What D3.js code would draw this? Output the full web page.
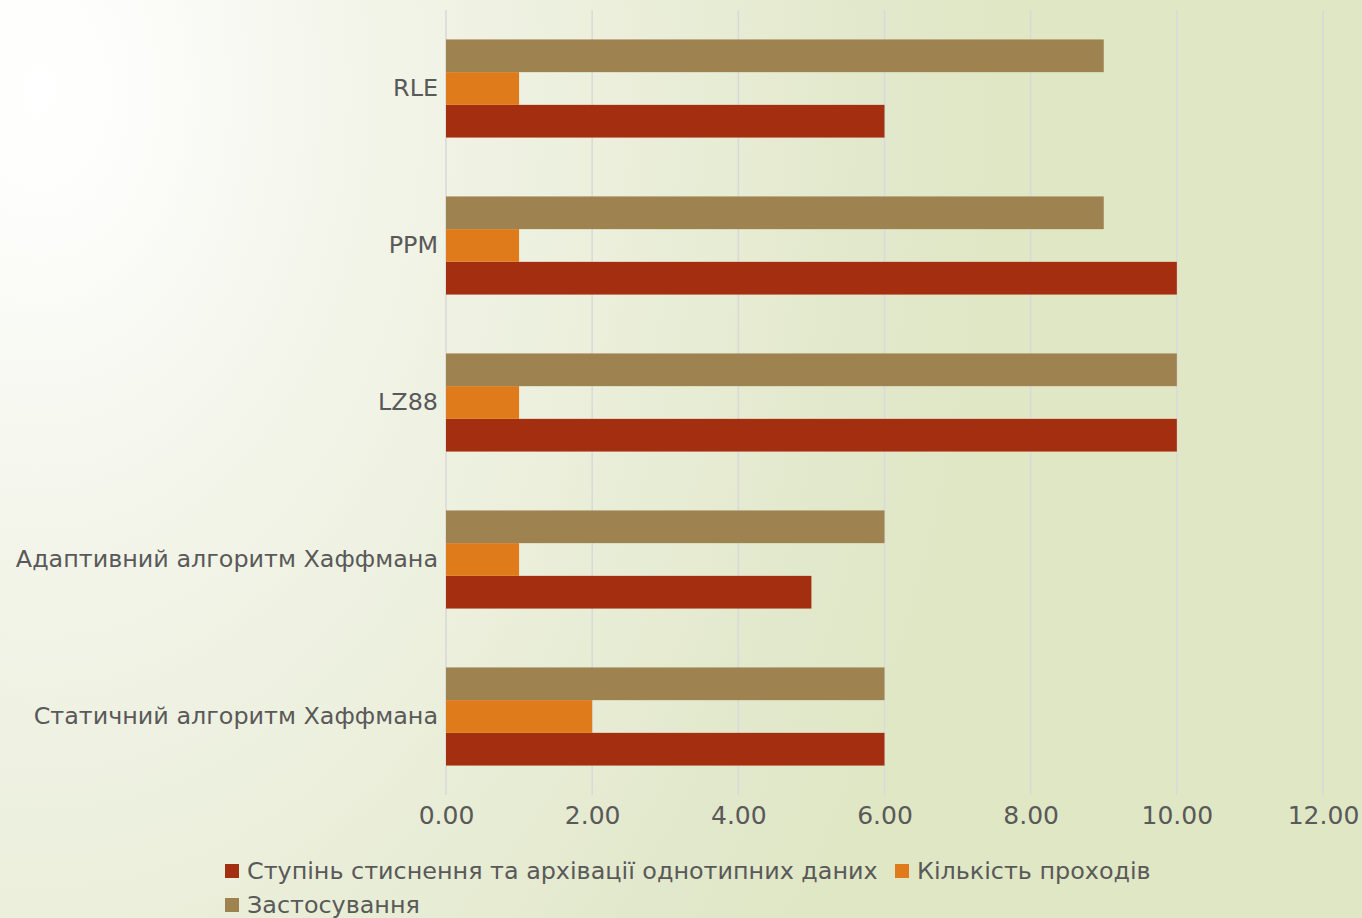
<!DOCTYPE html>
<html><head><meta charset="utf-8">
<script src="https://cdn.jsdelivr.net/npm/d3@7"></script>
<style>html,body{margin:0;padding:0;overflow:hidden;}svg{display:block;}</style>
</head><body>
<script>
const categories = ["Статичний алгоритм Хаффмана","Адаптивний алгоритм Хаффмана","LZ88","PPM","RLE"];
const seriesNames = ["Ступінь стиснення та архівації однотипних даних","Кількість проходів","Застосування"];
const compression = [6,5,10,10,6];
const passes = [2,1,1,1,1];
const usage = [6,6,10,9,9];
const xTicks = [0,2,4,6,8,10,12];
const colors = ["#A32E10","#DF7B1A","#9E8250"];

const W=1362,H=918;
const svg=d3.select("body").append("svg").attr("width",W).attr("height",H);
const defs=svg.append("defs");
const rg=defs.append("radialGradient").attr("id","bg").attr("gradientUnits","userSpaceOnUse")
  .attr("cx",0).attr("cy",0).attr("r",1)
  .attr("gradientTransform","translate(40,90) scale(1050,1500)");
rg.append("stop").attr("offset","0").attr("stop-color","#ffffff");
rg.append("stop").attr("offset","0.08").attr("stop-color","#fdfdfb");
rg.append("stop").attr("offset","0.3").attr("stop-color","#f3f5ea");
rg.append("stop").attr("offset","0.55").attr("stop-color","#ebefdb");
rg.append("stop").attr("offset","0.8").attr("stop-color","#e2e8cb");
rg.append("stop").attr("offset","0.92").attr("stop-color","#e0e7c5");
rg.append("stop").attr("offset","1").attr("stop-color","#e0e7c5");
svg.append("rect").attr("width",W).attr("height",H).attr("fill","url(#bg)");

const x=d3.scaleLinear().domain([0,12]).range([446,1323]);
const y=d3.scaleBand().domain(categories.slice().reverse()).range([10,795]).paddingInner(0.375).paddingOuter(0.1875);
const sub=d3.scaleBand().domain([2,1,0]).range([0,y.bandwidth()]);
const values=[compression,passes,usage];

// gridlines
svg.append("g").selectAll("line").data(xTicks).join("line")
  .attr("x1",d=>x(d)).attr("x2",d=>x(d)).attr("y1",10).attr("y2",795)
  .attr("stroke","#d9d9d9").attr("stroke-width",1.5);

// bars
const g=svg.append("g");
categories.forEach((c,i)=>{
  [0,1,2].forEach(s=>{
    g.append("rect").attr("x",x(0)).attr("y",y(c)+sub(s))
     .attr("width",x(values[s][i])-x(0)).attr("height",sub.bandwidth())
     .attr("fill",colors[s]);
  });
});

// axis
const xa=svg.append("g").attr("transform","translate(0,795)")
  .call(d3.axisBottom(x).tickValues(xTicks).tickFormat(d3.format(".2f")).tickSize(0).tickPadding(11));
xa.select(".domain").remove();
xa.selectAll("text").attr("font-family","DejaVu Sans").attr("font-size",25).attr("fill","#595959");

const ya=svg.append("g").attr("transform","translate(446,0)")
  .call(d3.axisLeft(y).tickSize(0).tickPadding(8));
ya.select(".domain").remove();
ya.selectAll("text").attr("font-family","DejaVu Sans").attr("font-size",23.85).attr("fill","#595959");

// legend
const leg=svg.append("g").attr("font-family","DejaVu Sans").attr("font-size",23.85).attr("fill","#595959");
const legPos=[[225,871],[895,871],[225,905]];
seriesNames.forEach((n,i)=>{
  const [lx,ly]=legPos[i];
  leg.append("rect").attr("x",lx).attr("y",ly-7).attr("width",14).attr("height",14).attr("fill",colors[i]);
  leg.append("text").attr("x",lx+22).attr("y",ly).attr("dy","0.35em").text(n);
});
</script>
</body></html>
